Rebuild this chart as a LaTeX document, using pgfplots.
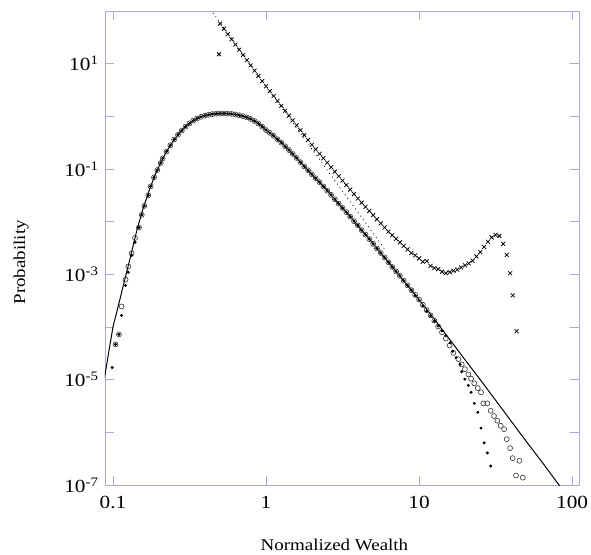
\documentclass[border=0pt]{standalone}
\usepackage{pgfplots}
\usepackage{pgfplotstable}
\pgfplotsset{compat=1.18}
\usepackage{fontspec}
\setmainfont{Liberation Serif}[FakeStretch=1.15]
\definecolor{axc}{RGB}{168,168,226}

\pgfplotstableread{
x y
0.0880 1.07e-5
0.0895 1.462e-5
0.1000 1.000e-4
0.1096 2.884e-4
0.1202 8.511e-4
0.1318 2.512e-3
0.1445 7.586e-3
0.1585 1.905e-2
0.1738 4.169e-2
0.1905 8.318e-2
0.2089 0.1479
0.2291 0.2399
0.2512 0.3631
0.2754 0.5012
0.3020 0.6607
0.3311 0.8128
0.3631 0.9441
0.3981 1.035
0.4365 1.096
0.4786 1.127
0.5248 1.135
0.5754 1.122
0.6310 1.084
0.6918 1.023
0.7586 0.9441
0.8318 0.8318
0.9120 0.6918
1.000 0.5495
1.122 0.4266
1.259 0.3162
1.413 0.2291
1.585 0.1622
1.778 0.1122
1.995 0.07943
2.239 0.05623
2.512 0.03890
3.162 0.01820
3.981 8.511e-3
5.012 3.802e-3
6.310 1.698e-3
7.943 7.586e-4
10.00 3.311e-4
12.59 1.413e-4
15.85 5.821e-5
19.95 2.399e-5
25.12 1.000e-5
31.62 4.074e-6
39.81 1.660e-6
50.12 6.761e-7
63.10 2.818e-7
85.11 8.71e-8
}\linetab

\pgfplotstableread{
x y
0.1040 4.677e-5
0.1094 7.244e-5
0.1138 2.455e-4
0.1208 7.943e-4
0.1259 1.413e-3
0.1324 2.512e-3
0.1393 4.898e-3
0.1479 7.762e-3
0.1542 0.01349
0.1603 0.01995
0.1702 0.03162
0.1762 0.04677
0.1854 0.06918
0.1950 0.09550
0.2051 0.1303
}\circleleft

\pgfplotstableread{
x y
0.09886 1.698e-5
0.1040 4.677e-5
0.1094 7.244e-5
0.1138 1.660e-4
0.1208 6.166e-4
0.1259 1.096e-3
0.1324 2.291e-3
0.1393 4.074e-3
0.1479 7.762e-3
0.1542 0.01349
0.1603 0.01995
0.1702 0.03162
0.1762 0.04677
0.1854 0.06918
0.1950 0.09550
0.2051 0.1303
}\dotleft

\pgfplotstableread{
x y
0.2113 0.1585
0.2239 0.2138
0.2371 0.2818
0.2512 0.3631
0.2661 0.4467
0.2818 0.5370
0.2985 0.6383
0.3162 0.7328
0.3350 0.8318
0.3548 0.9120
0.3758 0.9772
0.3981 1.035
0.4217 1.072
0.4467 1.104
0.4732 1.122
0.5012 1.132
0.5309 1.135
0.5623 1.127
0.5957 1.112
0.6310 1.084
0.6683 1.047
0.7079 1.007
0.7499 0.9550
0.7943 0.8913
0.8414 0.8166
0.8913 0.7328
0.9441 0.6383
1.000 0.5495
1.059 0.4842
1.122 0.4266
1.189 0.3673
1.259 0.3162
1.334 0.2692
1.413 0.2291
1.496 0.1928
1.585 0.1622
1.679 0.1349
1.778 0.1122
1.884 0.09441
1.995 0.07943
2.113 0.06683
2.239 0.05623
2.371 0.04677
2.512 0.03890
2.661 0.03236
2.818 0.02661
2.985 0.02188
3.162 0.01820
3.350 0.01514
3.548 0.01245
3.758 0.01023
3.981 0.008511
4.217 0.006918
4.467 0.005689
4.732 0.004677
5.012 0.003802
5.309 0.003090
5.623 0.002541
5.957 0.002089
6.310 0.001698
6.683 0.001380
7.079 0.001135
7.499 0.0009333
7.943 0.0007586
8.414 0.0006166
8.913 0.0005012
}\bandtab

\pgfplotstableread{
x y
9.441 4.074e-4
10.00 3.311e-4
10.59 2.630e-4
11.22 2.089e-4
11.89 1.660e-4
12.59 1.318e-4
13.34 1.023e-4
14.13 7.943e-5
14.96 6.026e-5
15.85 4.467e-5
16.75 3.236e-5
18.07 2.455e-5
19.01 1.950e-5
19.95 1.585e-5
20.99 1.259e-5
21.88 1.047e-5
22.96 8.511e-6
24.21 6.918e-6
25.41 5.754e-6
26.30 3.548e-6
27.93 3.548e-6
29.38 2.570e-6
30.90 2.042e-6
32.51 1.660e-6
34.20 1.334e-6
35.97 1.148e-6
37.41 7.413e-7
39.36 5.012e-7
40.93 3.236e-7
45.29 2.884e-7
43.05 1.514e-7
47.64 1.380e-7
}\circletail

\pgfplotstableread{
x y
9.441 3.981e-4
10.00 3.236e-4
10.59 2.512e-4
11.22 1.995e-4
11.89 1.622e-4
12.59 1.288e-4
13.34 1.047e-4
14.13 8.511e-5
14.96 6.918e-5
15.96 5.012e-5
16.60 3.467e-5
17.46 2.630e-5
18.54 1.950e-5
19.01 1.413e-5
19.95 1.023e-5
20.99 7.762e-6
21.88 5.754e-6
22.96 3.548e-6
24.21 2.399e-6
25.41 1.202e-6
26.61 6.310e-7
27.93 4.074e-7
29.38 2.291e-7
}\dottail

\pgfplotstableread{
x y
0.493 15.1
0.5012 57.5
0.5309 45.8
0.5623 36.5
0.5957 29.0
0.6310 23.1
0.6683 18.4
0.7079 14.6
0.7499 11.6
0.7943 9.25
0.8414 7.36
0.8913 5.86
0.9441 4.67
1.000 3.72
1.059 3.00
1.122 2.43
1.189 1.96
1.259 1.585
1.334 1.281
1.413 1.035
1.496 0.837
1.585 0.676
1.679 0.546
1.778 0.442
1.884 0.357
1.995 0.288
2.113 0.237
2.239 0.195
2.371 0.160
2.512 0.132
2.661 0.108
2.818 0.0891
2.985 0.0733
3.162 0.0603
3.350 0.0495
3.548 0.0407
3.758 0.0335
3.981 0.0275
4.217 0.0230
4.467 0.0191
4.732 0.0160
5.012 0.0133
5.309 0.0111
5.623 0.00927
5.957 0.00774
6.310 0.00646
6.683 0.00553
7.079 0.00473
7.499 0.00405
7.943 0.00347
8.414 0.00297
8.913 0.00254
9.441 0.00229
10.00 0.00200
10.59 0.00174
11.22 0.00178
11.89 0.00145
12.59 0.00132
13.34 0.00126
14.13 0.00112
14.96 0.00105
15.85 0.00110
16.79 0.00117
17.78 0.00123
18.84 0.00135
19.95 0.00148
21.13 0.00162
22.39 0.00182
23.71 0.00219
25.12 0.00263
26.61 0.00331
28.18 0.00417
29.85 0.00501
31.62 0.00562
33.50 0.00537
35.48 0.00380
37.41 0.00234
39.36 0.00105
40.93 0.000398
43.45 0.0000832
}\crosstab

\pgfplotstableread{
x y
0.4169 125.9
6.026 2.884e-3
}\dottedtab

\begin{document}
\begin{tikzpicture}
\begin{axis}[
  xmode=log, ymode=log,
  scale only axis, width=474pt, height=474pt,
  xmin=0.0887, xmax=111, ymin=1e-7, ymax=100,
  axis line style={draw=axc, line width=0.8pt},
  tick style={draw=axc, line width=0.8pt},
  major tick length=9pt,
  tick align=inside,
  xminorticks=false, yminorticks=false,
  xtick={0.1,1,10,100},
  xticklabels={0.1,1,10,100},
  ytick={1e-7,1e-6,1e-5,1e-4,1e-3,1e-2,1e-1,1,10},
  yticklabels={10\textsuperscript{-7},,10\textsuperscript{-5},,10\textsuperscript{-3},,10\textsuperscript{-1},,10\textsuperscript{1}},
  ticklabel style={font=\fontsize{18.5}{20}\selectfont, text=black},
  xticklabel style={yshift=-8pt},
  yticklabel style={xshift=-3pt},
  xlabel={Normalized Wealth},
  ylabel={Probability},
  every axis x label/.style={at={(axis description cs:0.484,-0.127)}, anchor=center, font=\fontsize{16.5}{18}\selectfont},
  every axis y label/.style={at={(axis description cs:-0.177,0.47)}, anchor=center, rotate=90, font=\fontsize{16.5}{18}\selectfont},
  clip=true,
]
\coordinate (SW) at (rel axis cs:0,0);
\coordinate (NE) at (rel axis cs:1,1);
\addplot[black, line width=1pt, no marks] table[x=x,y=y] {\linetab};
\addplot[black, line width=0.8pt, dash pattern=on 0.9pt off 3.5pt, no marks] table[x=x,y=y] {\dottedtab};
\addplot[only marks, mark=o, mark size=2.5pt, mark options={draw=black!80, line width=0.6pt}] table[x=x,y=y] {\circleleft};
\addplot[only marks, mark=o, mark size=2.5pt, mark options={draw=black!80, line width=0.6pt}] table[x=x,y=y] {\bandtab};
\addplot[only marks, mark=o, mark size=2.5pt, mark options={draw=black!80, line width=0.6pt}] table[x=x,y=y] {\circletail};
\addplot[only marks, mark=*, mark size=1.3pt, mark options={fill=black, draw=black}] table[x=x,y=y] {\dotleft};
\addplot[only marks, mark=*, mark size=1.3pt, mark options={fill=black, draw=black}] table[x=x,y=y] {\bandtab};
\addplot[only marks, mark=*, mark size=1.3pt, mark options={fill=black, draw=black}] table[x=x,y=y] {\dottail};
\addplot[only marks, mark=x, mark size=2.8pt, mark options={draw=black, line width=0.75pt}] table[x=x,y=y] {\crosstab};
\end{axis}
\pgfresetboundingbox
\path[use as bounding box] ([xshift=-105pt,yshift=-69pt]SW) rectangle ([xshift=12pt,yshift=11pt]NE);
\end{tikzpicture}
\end{document}
